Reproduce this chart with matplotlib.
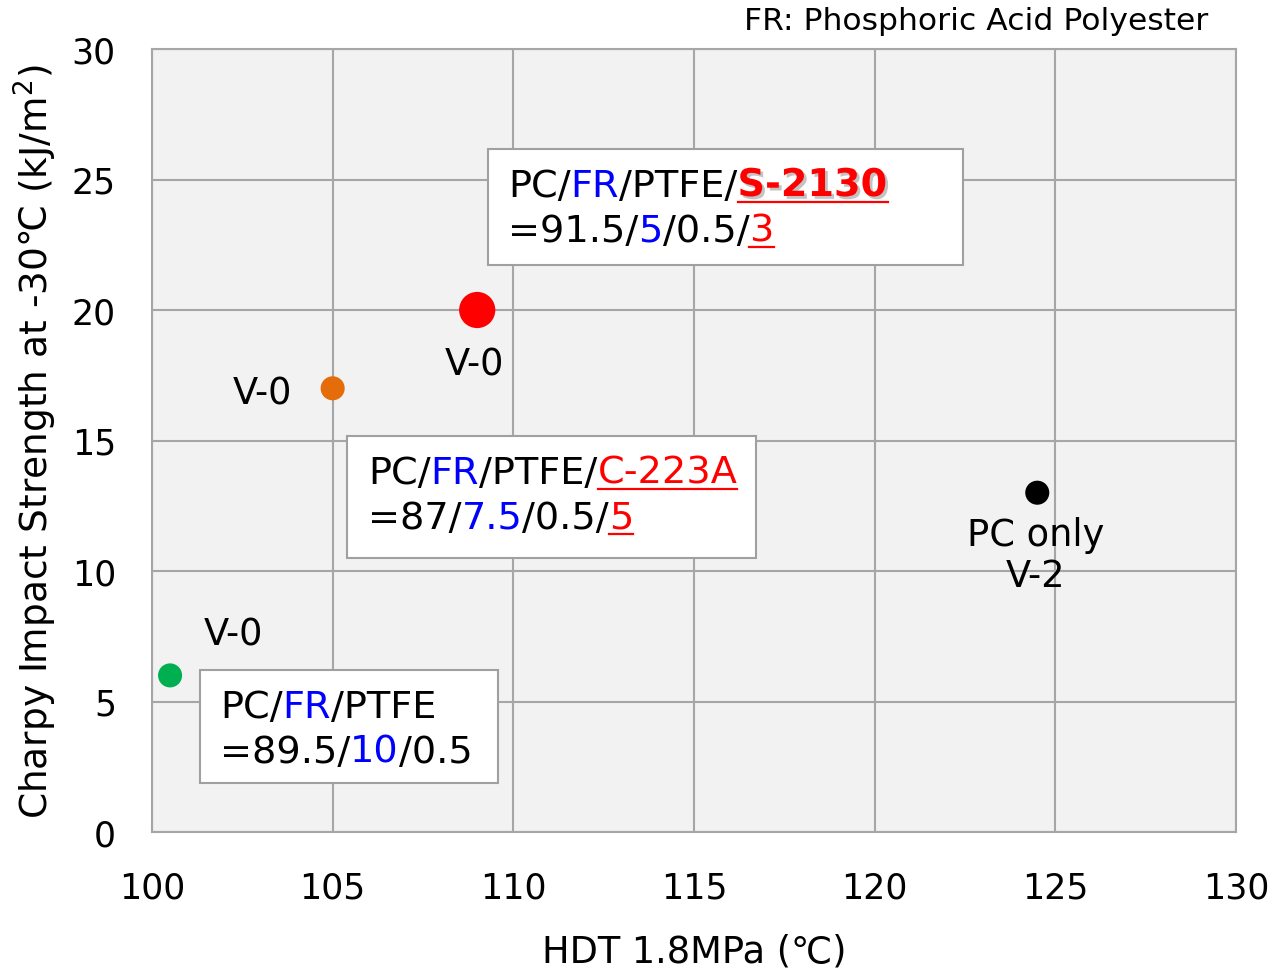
import matplotlib
matplotlib.use("Agg")
import matplotlib.pyplot as plt
from matplotlib.patches import Rectangle
from matplotlib.lines import Line2D
from matplotlib.transforms import IdentityTransform
import matplotlib.patheffects as pe

# data
hdt = [100.5, 105.0, 109.0, 124.5]
charpy = [6.0, 17.0, 20.0, 13.0]
colors = ["#00b050", "#e46c0a", "#ff0000", "#000000"]
marker_sizes = [300, 300, 680, 300]
ratings = ["V-0", "V-0", "V-0", "PC only\nV-2"]
label_offsets = [(63, 41), (-70, -5), (-3, -54), (-2, -62)]  # pixels

x_ticks = [100, 105, 110, 115, 120, 125, 130]
y_ticks = [0, 5, 10, 15, 20, 25, 30]

BLUE = "#0000ff"
RED = "#ff0000"

W, H = 1275, 970
FS = 25        # tick labels
FS_LAB = 26.5  # axis titles and point labels
FS_BOX = 27.5  # text in the boxes

plt.rcParams["font.family"] = ["DejaVu Sans"]
fig = plt.figure(figsize=(W / 100, H / 100), dpi=100)
fig.patch.set_facecolor("white")
ax = fig.add_axes([152 / W, 1 - 833 / H, (1236 - 152) / W, (833 - 50) / H])
ax.set_facecolor("#f2f2f2")

ax.set_xlim(100, 130)
ax.set_ylim(0, 30)
ax.set_xticks(x_ticks)
ax.set_yticks(y_ticks)
ax.grid(True, color="#a6a6a6", linewidth=1.5)
ax.set_axisbelow(True)
for sp in ax.spines.values():
    sp.set_color("#a6a6a6")
    sp.set_linewidth(1.5)
ax.tick_params(axis="both", length=0, labelsize=FS)
ax.tick_params(axis="x", pad=28)
ax.tick_params(axis="y", pad=26)

ax.set_xlabel("HDT 1.8MPa (℃)", fontsize=FS_LAB, labelpad=20)
ax.set_ylabel("Charpy Impact Strength at -30℃ (kJ/m$^2$)", fontsize=27, labelpad=9)

ax.scatter(hdt, charpy, s=marker_sizes, c=colors, zorder=3, linewidths=0)

for x, y, txt, off in zip(hdt, charpy, ratings, label_offsets):
    ax.annotate(txt, (x, y), xytext=off, textcoords="offset pixels",
                ha="center", va="center", fontsize=FS_LAB, linespacing=1.15)

fig.text(1208 / W, 1 - 22 / H, "FR: Phosphoric Acid Polyester", ha="right",
         va="center", fontsize=22.6)

fig.canvas.draw()
renderer = fig.canvas.get_renderer()
ident = IdentityTransform()


def rich_line(x, y, pieces):
    # x, y: pixel position from the top-left, y is the baseline
    cx = x
    yb = H - y
    for s, color, bold, under in pieces:
        t = fig.text(cx, yb, s, transform=ident, color=color, fontsize=FS_BOX,
                     fontweight="bold" if bold else "normal", va="baseline",
                     ha="left", zorder=5)
        if bold:
            t.set_path_effects([pe.SimplePatchShadow(offset=(2, -2), shadow_rgbFace="#888888", alpha=0.5),
                                pe.Normal()])
        bb = t.get_window_extent(renderer)
        if under:
            fig.add_artist(Line2D([bb.x0, bb.x1], [yb - 6, yb - 6], transform=ident,
                                  color=color, linewidth=1.6, zorder=5))
        cx = bb.x1


def box(x0, y0, x1, y1):
    fig.add_artist(Rectangle((x0, H - y1), x1 - x0, y1 - y0, transform=ident,
                             facecolor="white", edgecolor="#a0a0a0",
                             linewidth=1.5, zorder=4))


box(488, 150, 963, 266)
rich_line(508, 197, [("PC/", "black", False, False), ("FR", BLUE, False, False),
                     ("/PTFE/", "black", False, False), ("S-2130", RED, True, True)])
rich_line(508, 242, [("=91.5/", "black", False, False), ("5", BLUE, False, False),
                     ("/0.5/", "black", False, False), ("3", RED, False, True)])

box(347, 437, 756, 559)
rich_line(368, 484, [("PC/", "black", False, False), ("FR", BLUE, False, False),
                     ("/PTFE/", "black", False, False), ("C-223A", RED, False, True)])
rich_line(368, 529, [("=87/", "black", False, False), ("7.5", BLUE, False, False),
                     ("/0.5/", "black", False, False), ("5", RED, False, True)])

box(200, 671, 498, 784)
rich_line(220, 718, [("PC/", "black", False, False), ("FR", BLUE, False, False),
                     ("/PTFE", "black", False, False)])
rich_line(220, 763, [("=89.5/", "black", False, False), ("10", BLUE, False, False),
                     ("/0.5", "black", False, False)])

fig.savefig("out.png", dpi=100)
